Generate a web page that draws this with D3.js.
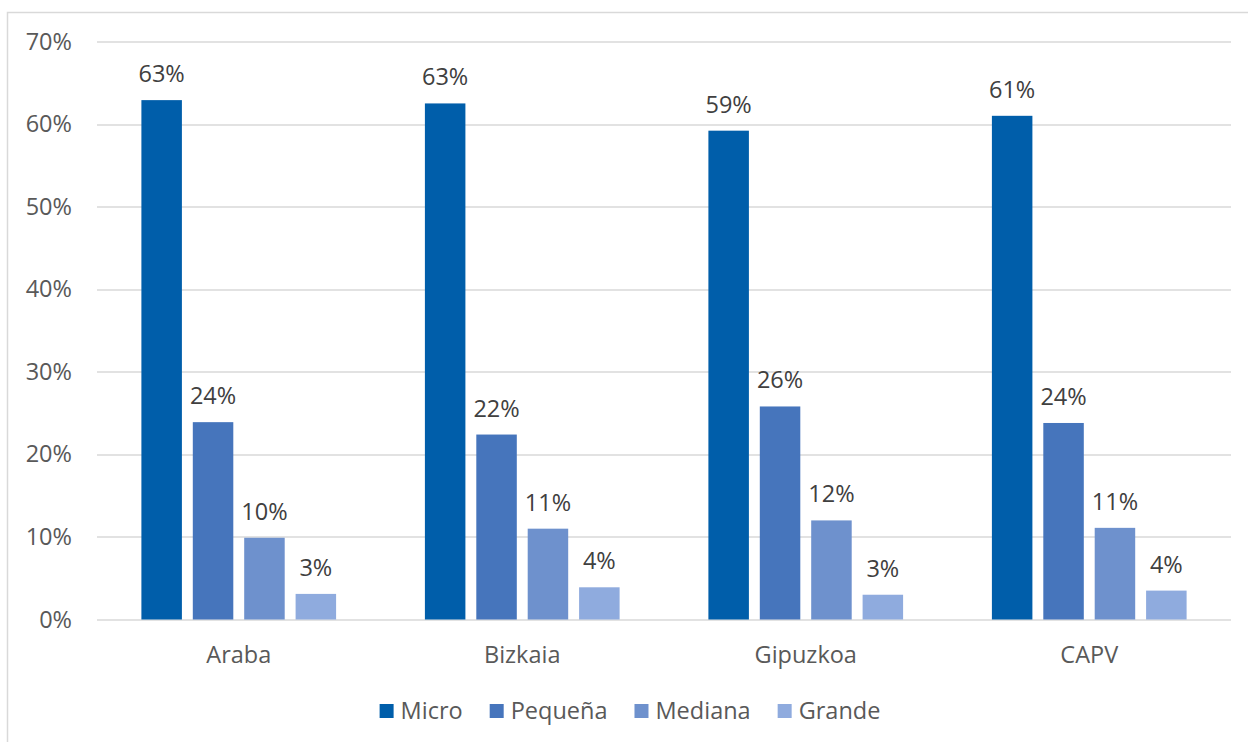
<!DOCTYPE html>
<html>
<head>
<meta charset="utf-8">
<script src="https://cdn.jsdelivr.net/npm/d3@7"></script>
<style>
  body { margin: 0; background: #fff; }
  text { font-family: "Open Sans", sans-serif; }
</style>
</head>
<body>
<div id="chart"></div>
<script>
// data (percent)
var categories = ["Araba", "Bizkaia", "Gipuzkoa", "CAPV"];
var series = ["Micro", "Pequeña", "Mediana", "Grande"];
var micro   = [62.9, 62.5, 59.2, 61.0];
var pequena = [23.9, 22.4, 25.8, 23.8];
var mediana = [9.9, 11.0, 12.0, 11.1];
var grande  = [3.1, 3.9, 3.0, 3.5];
var yTicks = [0, 10, 20, 30, 40, 50, 60, 70];

var colors = ["#005EAA", "#4675BC", "#6E91CD", "#8FABDE"];
var values = [micro, pequena, mediana, grande];

var W = 1248, H = 742;
var fs = "23.5px";
var margin = {top: 41.5, right: 17, bottom: 122.5, left: 97},
    width = W - margin.left - margin.right,
    height = H - margin.top - margin.bottom;

var svg = d3.select("#chart")
  .append("svg")
    .attr("width", W)
    .attr("height", H);

// chart border
svg.append("rect")
  .attr("x", 7.5).attr("y", 12.5)
  .attr("width", W + 10).attr("height", H + 10)
  .attr("fill", "none")
  .attr("stroke", "#d9d9d9")
  .attr("stroke-width", 1.5);

var g = svg.append("g")
  .attr("transform", "translate(" + margin.left + "," + margin.top + ")");

var y = d3.scaleLinear().domain([0, 70]).range([height, 0]);
var x0 = d3.scaleBand().domain(categories).range([0, width]);
var bw = x0.bandwidth();
var x1 = d3.scaleBand().domain(series)
  .range([44.4, bw - 44.4])
  .paddingInner(0.212);

// gridlines
g.append("g")
  .selectAll("line")
  .data(yTicks)
  .enter()
  .append("line")
    .attr("x1", 0).attr("x2", width)
    .attr("y1", function(d) { return Math.round(y(d)) + 0.5; })
    .attr("y2", function(d) { return Math.round(y(d)) + 0.5; })
    .attr("stroke", "#d9d9d9")
    .attr("stroke-width", 1.5);

// y axis labels
var yAxis = g.append("g")
  .call(d3.axisLeft(y).tickValues(yTicks).tickSize(0).tickPadding(25)
    .tickFormat(function(d) { return d + "%"; }));
yAxis.select(".domain").remove();
yAxis.selectAll("text")
  .attr("font-family", "Open Sans, sans-serif")
  .attr("font-size", fs)
  .attr("fill", "#595959");

// x axis labels
var xAxis = g.append("g")
  .attr("transform", "translate(0," + height + ")")
  .call(d3.axisBottom(x0).tickSize(0).tickPadding(26.5));
xAxis.select(".domain").remove();
xAxis.selectAll("text")
  .attr("font-family", "Open Sans, sans-serif")
  .attr("font-size", fs)
  .attr("fill", "#595959");

// bars
var rows = [];
categories.forEach(function(c, i) {
  series.forEach(function(s, j) {
    rows.push({cat: c, ser: s, val: values[j][i], color: colors[j]});
  });
});

g.selectAll("rect.bar")
  .data(rows)
  .enter()
  .append("rect")
    .attr("class", "bar")
    .attr("x", function(d) { return x0(d.cat) + x1(d.ser); })
    .attr("y", function(d) { return y(d.val); })
    .attr("width", x1.bandwidth())
    .attr("height", function(d) { return height - y(d.val); })
    .attr("fill", function(d) { return d.color; });

g.selectAll("text.lbl")
  .data(rows)
  .enter()
  .append("text")
    .attr("class", "lbl")
    .attr("x", function(d) { return x0(d.cat) + x1(d.ser) + x1.bandwidth() / 2; })
    .attr("y", function(d) { return y(d.val) - 18; })
    .attr("text-anchor", "middle")
    .attr("font-size", fs)
    .attr("fill", "#404040")
    .text(function(d) { return Math.round(d.val) + "%"; });

// legend
var legend = svg.append("g").attr("transform", "translate(0,711)");
var lx = 0;
var items = legend.selectAll("g")
  .data(series)
  .enter()
  .append("g");
items.append("rect")
  .attr("y", -7).attr("width", 14).attr("height", 14)
  .attr("fill", function(d, i) { return colors[i]; });
items.append("text")
  .attr("x", 21).attr("dy", "0.35em")
  .attr("font-size", fs)
  .attr("fill", "#595959")
  .text(function(d) { return d; });
items.each(function() {
  var it = d3.select(this);
  it.attr("transform", "translate(" + lx + ",0)");
  lx += 21 + it.select("text").node().getComputedTextLength() + 27;
});
lx -= 27;
legend.attr("transform", "translate(" + (630 - lx / 2) + ",711)");
</script>
</body>
</html>
